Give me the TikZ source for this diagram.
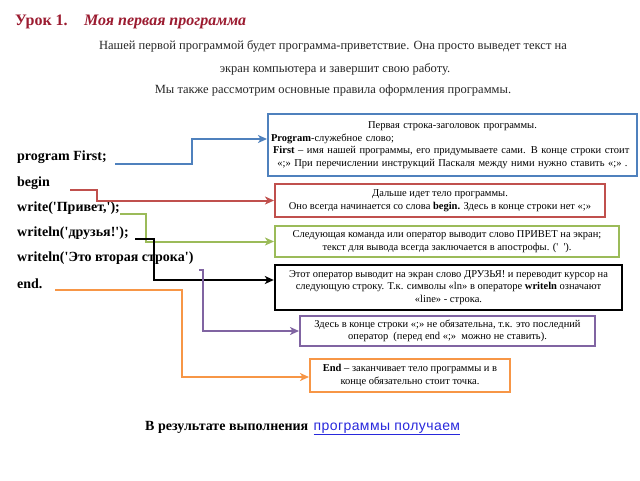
\documentclass[tikz,border=0pt]{standalone}
\usepackage{fontspec}
\setmainfont{Liberation Serif}
\newfontfamily\linkfont{Liberation Sans}[LetterSpace=3]
\usetikzlibrary{arrows.meta,positioning}
\definecolor{titlered}{RGB}{155,27,48}
\definecolor{oblue}{RGB}{79,129,189}
\definecolor{ored}{RGB}{192,80,77}
\definecolor{ogreen}{RGB}{155,187,89}
\definecolor{opurple}{RGB}{128,100,162}
\definecolor{oorange}{RGB}{247,150,70}
\definecolor{linkblue}{RGB}{40,40,220}
\newcommand{\sq}{\textquotesingle}
\tikzset{
  codeline/.style={anchor=west, font=\fontsize{14}{15}\selectfont\bfseries, inner sep=0pt},
  introline/.style={font=\fontsize{12.5}{14}\selectfont, text=black!85, inner sep=0pt},
  notebox/.style={draw=#1, line width=2pt, fill=white, font=\fontsize{10.5}{12.5}\selectfont,
    align=center, inner sep=2pt},
  conn/.style={draw=#1, line width=2pt, -{Stealth[length=9pt,width=8pt,inset=2.5pt]}},
}
\begin{document}
\begin{tikzpicture}[x=1pt,y=-1pt]
\useasboundingbox (0,0) rectangle (640,480);

% title and introduction
\node[anchor=base west, text=titlered, font=\fontsize{16}{17}\selectfont\bfseries, inner sep=0pt]
  (lesson) at (15,25) {Урок 1.};
\node[anchor=base west, text=titlered, font=\fontsize{16}{17}\selectfont\bfseries\itshape, inner sep=0pt]
  (topic) at (84,25) {Моя первая программа};
\node[introline] (intro1) at (333,46) {Нашей первой программой будет программа-приветствие. Она просто выведет текст на};
\node[introline] (intro2) at (335,69) {экран компьютера и завершит свою работу.};
\node[introline] (intro3) at (333,90) {Мы также рассмотрим основные правила оформления программы.};

% program text
\node[codeline] (pFirst) at (17,157) {program First;};
\node[codeline] (pBegin) at (17,183) {begin};
\node[codeline] (pWrite) at (17,208) {write(\sq Привет,\sq);};
\node[codeline] (pWriteln) at (17,233) {writeln(\sq друзья!\sq);};
\node[codeline] (pLast) at (17,258) {writeln(\sq Это вторая строка\sq)};
\node[codeline] (pEnd) at (17,284) {end.};

% notes
\node[notebox=oblue, minimum width=369pt, minimum height=62pt, text width=363pt]
  (bFirst) at (452.5,145) {Первая строка-заголовок программы.\\
  \makebox[363pt][l]{\textbf{Program}-служебное слово;}\\
  \makebox[363pt][l]{\hspace*{2pt}\textbf{First} – имя нашей программы, его придумываете сами. В конце строки стоит}\\
  «;» При перечислении инструкций Паскаля между ними нужно ставить «;» .};
\node[notebox=ored, minimum width=330pt, minimum height=33pt]
  (bBegin) at (440,200.5) {Дальше идет тело программы.\\
  Оно всегда начинается со слова \textbf{begin.} Здесь в конце строки нет «;»};
\node[notebox=ogreen, minimum width=344pt, minimum height=31pt]
  (bWrite) at (447,241.5) {Следующая команда или оператор выводит слово ПРИВЕТ на экран;\\
  текст для вывода всегда заключается в апострофы. (\sq\ \ \sq).};
\node[notebox=black, line width=2.4pt, minimum width=347pt, minimum height=45pt]
  (bWriteln) at (448.5,287.5) {Этот оператор выводит на экран слово ДРУЗЬЯ! и переводит курсор на\\
  следующую строку. Т.к. символы «ln» в операторе \textbf{writeln} означают\\
  «line» - строка.};
\node[notebox=opurple, minimum width=295pt, minimum height=30pt]
  (bLast) at (447.5,331) {Здесь в конце строки «;» не обязательна, т.к. это последний\\
  оператор \ (перед end «;» \ можно не ставить).};
\node[notebox=oorange, minimum width=200pt, minimum height=33pt]
  (bEnd) at (410,375.5) {\textbf{End} – заканчивает тело программы и в\\
  конце обязательно стоит точка.};

% connectors
\coordinate (sFirst) at (115,164);
\coordinate (sBegin) at (70,190);
\coordinate (sWrite) at (120,214);
\coordinate (sWriteln) at (135,239);
\coordinate (sLast) at (199,270);
\coordinate (sEnd) at (55,290);
\draw[conn=oblue] (sFirst) -- (192,164) |- ([yshift=6pt]bFirst.west);
\draw[conn=ored] (sBegin) -- (97,190) |- (bBegin.west);
\draw[conn=ogreen] (sWrite) -- (146,214) |- (bWrite.west);
\draw[conn=black] (sWriteln) -- (154,239) |- ([yshift=7.5pt]bWriteln.west);
\draw[conn=opurple] (sLast) -- (203,270) |- (bLast.west);
\draw[conn=oorange] (sEnd) -- (182,290) |- ([yshift=-1.5pt]bEnd.west);

% result
\node[anchor=base west, font=\fontsize{14}{15}\selectfont\bfseries, inner sep=0pt]
  (result) at (145,430) {В результате выполнения};
\node[anchor=base west, font=\linkfont\fontsize{14}{15}\selectfont, text=linkblue, inner sep=0pt]
  (resultlink) at ([xshift=5pt]result.base east) {\underline{программы получаем}};
\end{tikzpicture}
\end{document}
